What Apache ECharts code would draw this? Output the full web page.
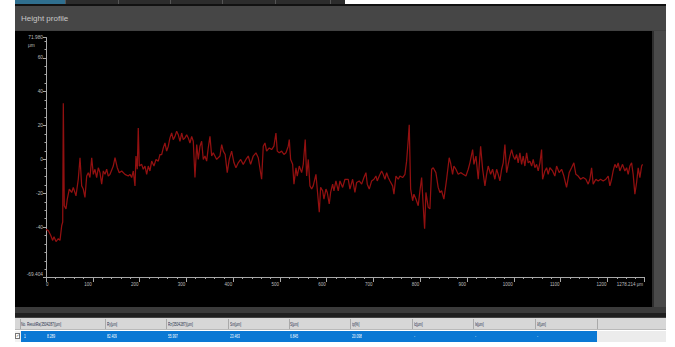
<!DOCTYPE html>
<html>
<head>
<meta charset="utf-8">
<title>Height profile</title>
<script src="https://cdn.jsdelivr.net/npm/echarts@6/dist/echarts.min.js"></script>
<style>
  html, body { margin: 0; padding: 0; width: 675px; height: 347px; overflow: hidden; background: #fff;
    font-family: "Liberation Sans", Arial, sans-serif; }
  .blk { position: absolute; }
  #tabs { left: 15px; top: 0; width: 330px; height: 5px; background: #2c2c2c; }
  #tabs .tab { position: absolute; top: 0; height: 5px; border-right: 1px solid #555; }
  #frame { left: 15px; top: 4px; width: 651px; height: 314px; background: #414141; border-top: 2px solid #111; box-sizing: border-box; }
  #titlebar { left: 15px; top: 6px; width: 651px; height: 24px; background: #464646; color: #c6c6c6;
    font-size: 8px; line-height: 25px; padding-left: 6px; box-sizing: border-box; }
  #plot { left: 15px; top: 31px; width: 637px; height: 276px; background: #000; }
  #side { left: 652px; top: 31px; width: 14px; height: 276px; background: #4a4a4a; border-left: 2px solid #2e2e2e; box-sizing: border-box; }
  #band { left: 15px; top: 307px; width: 651px; height: 6px; background: #3b3b3b; }
  #band2 { left: 15px; top: 313px; width: 651px; height: 4px; background: #1f1f1f; }
  #thead { left: 15px; top: 318px; width: 651px; height: 12px; background: #d7d7d7; border-bottom: 1px solid #b9b9b9; box-sizing: border-box; }
  #rowchk { left: 15px; top: 331px; width: 6px; height: 11px; background: #f2f2f2; }
  #rowsel { left: 21px; top: 331px; width: 576px; height: 11px; background: #0a78d4; }
  #rowrest { left: 597px; top: 331px; width: 69px; height: 11px; background: #ececec; }
  .hsep { position: absolute; top: 319px; width: 1px; height: 10px; background: #a9a9a9; }
  .ht, .rt { position: absolute; font-size: 5.2px; white-space: nowrap; transform: scaleX(0.62); transform-origin: 0 50%; }
  .ht { top: 320.5px; line-height: 7px; color: #25304a; }
  .rt { top: 332.5px; line-height: 7px; color: #fff; }
  #chk { position: absolute; left: 15px; top: 333px; width: 5px; height: 6px; border: 1px solid #777; background: #fff;
    box-sizing: border-box; font-size: 4px; line-height: 4px; color: #333; text-align: center; overflow: hidden; }
  #chart { position: absolute; left: 0; top: 0; width: 675px; height: 347px; }
</style>
</head>
<body>
<div id="tabs" class="blk">
  <div class="tab" style="left:0;width:50px;background:#2f6f8f;"></div>
  <div class="tab" style="left:50px;width:53px;"></div>
  <div class="tab" style="left:103px;width:52px;"></div>
  <div class="tab" style="left:155px;width:52px;"></div>
  <div class="tab" style="left:207px;width:53px;"></div>
  <div class="tab" style="left:260px;width:55px;"></div>
</div>
<div id="frame" class="blk"></div>
<div id="titlebar" class="blk">Height profile</div>
<div id="plot" class="blk"></div>
<div id="side" class="blk"></div>
<div id="band" class="blk"></div>
<div id="band2" class="blk"></div>
<div id="thead" class="blk"></div>
<div id="rowchk" class="blk"></div>
<div id="rowsel" class="blk"></div>
<div id="rowrest" class="blk"></div>
<div id="table"></div>
<div id="chk">✓</div>
<div id="chart"></div>
<script>
// Profile samples: position along the trace (µm) and measured height (µm)
const POS_UM = [
  0, 4.9, 10.0, 14.3, 17.1, 21.4, 26.3, 29.9, 33.6, 35.7, 37.0, 39.1, 42.7, 45.5, 49.8, 54.9, 58.3, 64.1, 69.0, 72.7,
  76.3, 79.7, 83.3, 87.0, 90.4, 94.0, 97.7, 101.1, 104.7, 108.3, 111.8, 115.4, 119.0, 122.5, 126.1, 129.7, 133.1, 136.8, 143.8, 147.5,
  152.4, 156.6, 161.8, 168.8, 175.9, 179.5, 183.1, 186.6, 190.2, 192.3, 195.1, 197.2, 199.4, 204.5, 207.9, 211.6, 215.2, 218.6, 222.2, 225.9,
  230.8, 235.1, 240.0, 243.6, 247.3, 250.7, 254.3, 257.9, 261.4, 265.0, 268.6, 272.0, 275.7, 279.3, 282.7, 286.4, 290.0, 293.4, 297.0, 300.7,
  304.1, 307.7, 311.4, 314.8, 318.4, 322.1, 325.5, 329.1, 332.7, 336.2, 339.8, 343.4, 346.8, 350.5, 354.1, 357.5, 364.8, 371.8, 375.5, 378.9,
  383.0, 387.4, 391.7, 396.8, 401.8, 406.0, 410.9, 416.1, 421.6, 427.4, 432.3, 437.4, 443.0, 448.8, 453.7, 460.9, 464.4, 468.0, 471.6, 477.2,
  482.3, 487.2, 491.5, 494.3, 498.6, 503.7, 508.6, 512.9, 517.8, 520.0, 522.9, 527.2, 530.0, 534.3, 537.0, 541.3, 546.4, 549.9, 554.1, 557.1,
  560.6, 564.2, 567.8, 571.2, 577.0, 579.8, 584.1, 587.0, 591.3, 594.1, 598.4, 601.2, 605.4, 608.4, 612.7, 615.5, 619.7, 624.7, 628.3, 634.1,
  639.0, 646.0, 649.7, 655.4, 660.3, 664.0, 669.5, 674.7, 679.6, 683.9, 686.7, 690.9, 696.1, 701.0, 705.2, 708.0, 712.3, 717.4, 720.8, 724.5,
  728.1, 731.5, 735.2, 740.9, 743.7, 748.0, 752.9, 756.5, 762.3, 767.2, 770.8, 774.3, 776.4, 779.4, 783.7, 786.4, 790.7, 795.6, 799.3, 802.9,
  806.3, 809.3, 812.1, 817.0, 820.6, 824.3, 827.7, 833.4, 838.3, 842.0, 845.6, 850.5, 856.3, 861.8, 864.8, 869.1, 871.9, 876.2, 881.1, 886.3,
  891.8, 897.6, 902.5, 906.1, 911.9, 914.7, 919.0, 923.9, 929.0, 933.3, 938.2, 941.8, 945.2, 950.4, 954.6, 959.5, 963.2, 966.6, 970.2, 973.9,
  977.3, 980.9, 984.6, 988.0, 991.6, 995.3, 998.7, 1002.3, 1005.9, 1009.3, 1013.0, 1016.6, 1020.0, 1023.6, 1027.3, 1030.7, 1034.3, 1038.0, 1041.4, 1045.0,
  1048.6, 1052.1, 1055.7, 1059.3, 1061.5, 1066.4, 1070.0, 1073.4, 1077.0, 1082.8, 1087.7, 1091.4, 1096.9, 1102.1, 1107.0, 1112.7, 1118.3, 1123.4, 1128.3, 1132.6,
  1137.5, 1142.7, 1148.2, 1154.0, 1158.9, 1162.5, 1166.2, 1169.6, 1175.4, 1180.3, 1185.4, 1191.0, 1196.7, 1201.7, 1205.3, 1208.9, 1212.3, 1216.0, 1219.6, 1223.0,
  1226.6, 1232.4, 1237.3, 1241.0, 1244.4, 1248.0, 1251.7, 1255.1, 1258.7, 1262.4, 1265.8, 1269.4, 1273.1, 1275.2
];
const HEIGHT_UM = [
  -41.3, -42.0, -44.8, -47.8, -45.6, -48.5, -46.8, -47.8, -39.0, -37.0, 33.2, -27.3, -29.2, -23.4, -17.5, -19.5, -16.5, -21.5, -11.7, 1.0,
  -15.6, -17.5, -22.4, -9.8, -7.8, -10.7, 1.0, -8.8, -5.8, -10.7, -4.9, -7.8, -14.6, -6.8, -8.8, -5.8, -9.8, -8.8, -3.9, 1.0,
  -4.9, -7.8, -6.8, -8.8, -9.8, -8.8, -10.7, -6.8, -15.6, 2.0, -5.8, 18.5, -3.9, -2.9, -5.8, -3.9, -8.8, -3.9, -6.8, -1.0,
  -3.9, 0.0, -1.0, 2.9, 2.9, 6.8, 9.7, 4.9, 7.8, 12.7, 15.6, 11.7, 13.6, 16.6, 14.6, 10.7, 15.6, 11.7, 12.7, 14.6,
  12.7, 9.7, 13.6, 10.7, -10.7, 8.8, 0.0, 7.8, 10.7, 0.0, 2.0, -1.0, 6.8, 13.6, 2.0, 3.9, 0.0, 2.0, 8.8, 4.9,
  2.9, -7.8, 0.0, 4.9, -2.0, -4.9, -2.0, 0.0, -2.9, 0.0, 2.0, -2.9, 2.0, 3.9, 1.0, -11.7, 7.8, 9.7, 4.9, 6.8,
  5.8, 7.8, 15.6, 4.9, 3.9, 4.9, 2.9, 3.9, 7.8, 11.7, 0.0, -2.9, -14.6, -4.9, -9.8, -3.9, -7.8, -2.9, 11.7, -9.8,
  0.0, -15.6, -17.5, -15.6, -8.8, -17.5, -31.2, -16.5, -18.5, -23.4, -17.5, -19.5, -26.3, -19.5, -14.6, -18.5, -12.7, -18.5, -12.7, -16.5,
  -11.7, -11.7, -17.5, -11.7, -19.5, -13.6, -12.7, -14.6, -10.7, -7.8, -14.6, -17.5, -12.7, -11.7, -9.8, -12.7, -9.8, -6.8, -8.8, -11.7,
  -7.8, -10.7, -12.7, -15.6, -20.5, -9.8, -11.7, -9.8, -10.7, -8.8, -1.0, 11.7, 20.5, -17.5, -24.4, -20.5, -23.4, -27.3, -18.5, -10.7,
  -27.3, -40.9, -19.5, -28.3, -29.2, -5.8, -4.9, -7.8, -16.5, -19.5, -18.5, -23.4, -11.7, 1.0, -2.0, -8.8, -3.9, -5.8, -8.8, -7.8,
  -8.8, -9.8, -5.8, -2.0, 5.8, -2.9, 2.0, -11.7, 7.8, -5.8, -15.6, -8.8, -3.9, -8.8, -5.8, -11.7, -5.8, -8.8, -12.7, -5.8,
  -2.0, 8.8, -7.8, -2.9, 2.0, 5.8, 2.0, 0.0, 2.9, -2.0, 3.9, -2.9, 2.0, -3.9, 3.9, -2.0, -1.0, -3.9, 0.0, -4.9,
  -2.9, -6.8, -2.0, 5.8, -11.7, -6.8, -4.9, -8.8, -4.9, -6.8, -9.8, -3.9, -7.8, -5.8, -9.8, -16.5, -7.8, -4.9, -2.0, -8.8,
  -9.8, -11.7, -10.7, -11.7, -14.6, -11.7, -4.9, -14.6, -11.7, -12.7, -11.7, -12.7, -11.7, -9.8, -15.6, -11.7, -6.8, -2.9, -4.9, -2.0,
  -6.8, -2.9, -6.8, -4.9, -8.8, -3.9, -2.0, -8.8, -20.5, -13.6, -4.9, -10.7, -3.9, -2.9
];

// Axis extents and tick positions (µm)
const X_MIN = 0;
const X_MAX = 1278.214;
const X_MAJOR = [0, 100, 200, 300, 400, 500, 600, 700, 800, 900, 1000, 1100, 1200, 1278.214];
const X_MINOR = [20, 40, 60, 80, 120, 140, 160, 180, 220, 240, 260, 280, 320, 340, 360, 380, 420, 440, 460, 480,
  520, 540, 560, 580, 620, 640, 660, 680, 720, 740, 760, 780, 820, 840, 860, 880, 920, 940, 960, 980,
  1020, 1040, 1060, 1080, 1120, 1140, 1160, 1180, 1220, 1240, 1260];
const Y_MIN = -69.404;
const Y_MAX = 71.980;
const Y_MAJOR = [-69.404, -40, -20, 0, 20, 40, 60, 71.980];
const Y_MINOR = [-65, -60, -55, -50, -45, -35, -30, -25, -15, -10, -5, 5, 10, 15, 25, 30, 35, 45, 50, 55, 65, 70];
const X_UNIT = 'μm';
const Y_UNIT = 'μm';

// Result table: header captions, one row of results, and column starts
const TABLE_HEAD = [
  ['No.', 21], ['Result', 26.5], ['Ra(3504287)[μm]', 36], ['Ry[μm]', 107], ['Rz(3504287)[μm]', 168], ['Sm[μm]', 230],
  ['S[μm]', 290], ['tp[%]', 352], ['lc[μm]', 414], ['ls[μm]', 475], ['λf[μm]', 537]
];
const TABLE_ROW = [
  ['1', 23.5], ['8.289', 47], ['82.409', 107], ['55.997', 168], ['23.463', 230], ['6.845', 290],
  ['20.098', 352], ['-', 414], ['-', 475], ['-', 537]
];
const HEAD_SEPARATORS = [20, 105, 166, 228, 289, 350, 412, 473, 535, 597];

const tbl = document.getElementById('table');
HEAD_SEPARATORS.forEach(x => {
  const d = document.createElement('div'); d.className = 'hsep'; d.style.left = x + 'px'; tbl.appendChild(d);
});
TABLE_HEAD.forEach(([t, x]) => {
  const d = document.createElement('div'); d.className = 'ht'; d.style.left = x + 'px'; d.textContent = t; tbl.appendChild(d);
});
TABLE_ROW.forEach(([t, x]) => {
  const d = document.createElement('div'); d.className = 'rt'; d.style.left = x + 'px'; d.textContent = t; tbl.appendChild(d);
});

const profile = POS_UM.map((x, i) => [x, HEIGHT_UM[i]]);
const AXIS_COLOR = '#a8a8a8';
const LABEL_COLOR = '#bdbdbd';
const LABEL_FONT = 'Liberation Sans';

const fmtX = v => Math.abs(v - X_MAX) < 1e-6 ? X_MAX.toFixed(3) + ' ' + X_UNIT : String(Math.round(v));
const fmtY = v => {
  if (Math.abs(v - Y_MAX) < 1e-6) return Y_MAX.toFixed(3);
  if (Math.abs(v - Y_MIN) < 1e-6) return Y_MIN.toFixed(3);
  return String(Math.round(v));
};

const chart = echarts.init(document.getElementById('chart'), null, { renderer: 'svg', width: 675, height: 347 });
chart.setOption({
  backgroundColor: 'transparent',
  animation: false,
  grid: { left: 46, right: 31, top: 37.5, bottom: 70, containLabel: false },
  xAxis: [
    {
      type: 'value', min: X_MIN, max: X_MAX,
      axisLine: { show: true, onZero: false, lineStyle: { color: AXIS_COLOR, width: 1 } },
      axisTick: { show: true, customValues: X_MAJOR, length: 5, lineStyle: { color: AXIS_COLOR } },
      axisLabel: { customValues: X_MAJOR, formatter: fmtX, color: LABEL_COLOR, fontSize: 4.5, fontFamily: LABEL_FONT,
        margin: 5, align: 'right', alignMinLabel: 'left', alignMaxLabel: 'right', padding: [0, 1, 0, 0] },
      splitLine: { show: false }
    },
    {
      type: 'value', min: X_MIN, max: X_MAX, position: 'bottom', offset: 0,
      axisLine: { show: false, onZero: false },
      axisTick: { show: true, customValues: X_MINOR, length: 2, lineStyle: { color: AXIS_COLOR } },
      axisLabel: { show: false },
      splitLine: { show: false }
    }
  ],
  yAxis: [
    {
      type: 'value', min: Y_MIN, max: Y_MAX,
      axisLine: { show: true, onZero: false, lineStyle: { color: AXIS_COLOR, width: 1 } },
      axisTick: { show: true, customValues: Y_MAJOR, length: 3, lineStyle: { color: AXIS_COLOR } },
      axisLabel: { customValues: Y_MAJOR, formatter: fmtY, color: LABEL_COLOR, fontSize: 4.8, fontFamily: LABEL_FONT,
        margin: 3, verticalAlignMinLabel: 'bottom' },
      splitLine: { show: false }
    },
    {
      type: 'value', min: Y_MIN, max: Y_MAX, position: 'left', offset: 0,
      axisLine: { show: false, onZero: false },
      axisTick: { show: true, customValues: Y_MINOR, length: 1.5, lineStyle: { color: AXIS_COLOR } },
      axisLabel: { show: false },
      splitLine: { show: false }
    }
  ],
  graphic: [
    { type: 'text', left: 28, top: 43, style: { text: Y_UNIT, fill: LABEL_COLOR, fontSize: 4.8, fontFamily: LABEL_FONT } }
  ],
  series: [
    {
      type: 'line', xAxisIndex: 0, yAxisIndex: 0, data: profile,
      showSymbol: false, symbol: 'none',
      lineStyle: { color: '#921010', width: 1.25 },
      emphasis: { disabled: true }
    }
  ]
});
</script>
</body>
</html>
